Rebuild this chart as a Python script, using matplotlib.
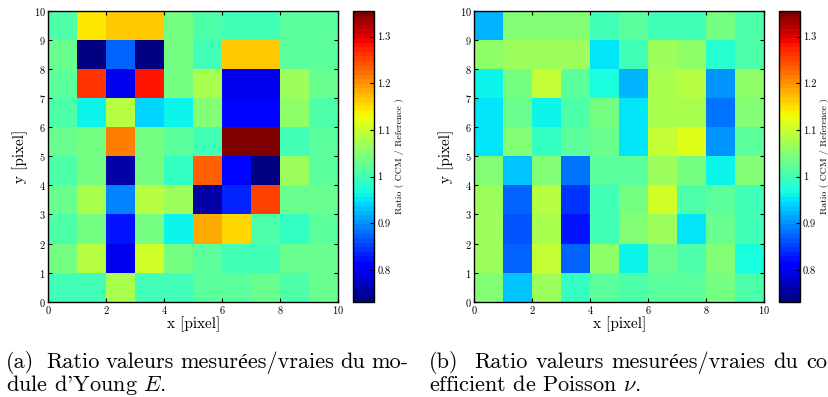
import numpy as np
import matplotlib
matplotlib.use("Agg")
import matplotlib.pyplot as plt

plt.rcParams['font.family'] = ['cmr10', 'Liberation Serif']
plt.rcParams['mathtext.fontset'] = 'cm'
plt.rcParams['axes.unicode_minus'] = False
plt.rcParams['axes.formatter.use_mathtext'] = True

# ratio maps, rows listed from top (y=9..10) down to bottom (y=0..1), columns x=0..9
young_rows = [
    [1.01, 1.15, 1.165, 1.165, 1.04, 1.01, 1.00, 1.00, 1.02, 1.02],
    [1.03, 0.74, 0.87, 0.74, 1.04, 1.00, 1.165, 1.165, 1.02, 1.02],
    [1.02, 1.26, 0.80, 1.28, 1.04, 1.08, 0.80, 0.80, 1.07, 1.03],
    [1.01, 0.96, 1.09, 0.94, 0.96, 1.05, 0.81, 0.81, 1.06, 1.01],
    [1.03, 1.04, 1.21, 1.04, 1.02, 1.00, 1.35, 1.35, 1.00, 1.02],
    [1.01, 1.04, 0.76, 1.04, 0.99, 1.23, 0.81, 0.74, 1.07, 1.02],
    [1.03, 1.08, 0.89, 1.09, 1.07, 0.76, 0.83, 1.25, 1.03, 1.03],
    [1.01, 1.04, 0.82, 1.04, 0.96, 1.18, 1.16, 1.01, 0.99, 1.02],
    [1.04, 1.09, 0.80, 1.11, 1.04, 1.02, 1.00, 1.00, 1.03, 1.03],
    [1.00, 1.00, 1.08, 0.995, 0.995, 1.02, 1.02, 1.025, 1.01, 1.03],
]
poisson_rows = [
    [0.92, 1.05, 1.045, 1.05, 1.00, 1.02, 1.00, 1.00, 1.035, 1.01],
    [1.06, 1.07, 1.065, 1.065, 0.95, 1.00, 1.07, 1.06, 0.985, 1.01],
    [0.965, 1.04, 1.10, 1.02, 0.97, 0.92, 1.08, 1.09, 0.90, 1.06],
    [0.95, 1.03, 0.965, 1.01, 1.04, 0.95, 1.08, 1.08, 0.88, 1.05],
    [0.95, 1.05, 0.99, 1.02, 1.025, 0.95, 1.10, 1.12, 0.90, 1.02],
    [1.05, 0.93, 1.045, 0.88, 1.02, 1.02, 1.07, 1.04, 0.965, 1.05],
    [1.065, 0.87, 1.09, 0.84, 1.00, 1.04, 1.11, 1.01, 1.02, 1.00],
    [1.065, 0.86, 1.08, 0.82, 1.00, 1.045, 1.07, 0.95, 1.03, 1.00],
    [1.065, 0.87, 1.10, 0.87, 1.06, 0.965, 1.025, 1.01, 1.045, 0.97],
    [1.05, 0.93, 1.065, 0.99, 1.02, 1.01, 1.02, 1.02, 1.035, 1.01],
]
vmin, vmax = 0.732, 1.355
cbar_ticks = [0.8, 0.9, 1, 1.1, 1.2, 1.3]
cbar_labels = ['0.8', '0.9', '1', '1.1', '1.2', '1.3']
# first caption line is justified (latex style), second is left aligned
cap_words = [
    ["(a)", "Ratio", "valeurs", "mesurées/vraies", "du", "mo-"],
    ["(b)", "Ratio", "valeurs", "mesurées/vraies", "du", "co"],
]
cap_second = [r"dule d'Young $E$.", r"efficient de Poisson $\nu$."]

W, H = 829, 397
fig = plt.figure(figsize=(W / 100, H / 100), dpi=100)
cmap = plt.get_cmap('jet', 64)
edges = np.arange(11)

ax_pos = [[0.0583, 0.2401, 0.3498, 0.7322], [0.5721, 0.2401, 0.3495, 0.7322]]
cb_pos = [[0.4255, 0.2401, 0.0261, 0.7322], [0.9397, 0.2401, 0.0253, 0.7322]]

for k, rows in enumerate([young_rows, poisson_rows]):
    data = np.array(rows)[::-1]
    ax = fig.add_axes(ax_pos[k])
    mesh = ax.pcolormesh(edges, edges, data, cmap=cmap, vmin=vmin, vmax=vmax)
    ax.set_xlim(0, 10)
    ax.set_ylim(0, 10)
    ax.set_xticks(range(0, 11, 2))
    ax.set_yticks(range(0, 11))
    ax.tick_params(direction='in', top=True, right=True, labelsize=7.5,
                   length=3, width=0.8, pad=2)
    for s in ax.spines.values():
        s.set_linewidth(1.0)
    ax.set_xlabel('x [pixel]', fontsize=11, labelpad=0)
    ax.set_ylabel('y [pixel]', fontsize=11, labelpad=4)

    cax = fig.add_axes(cb_pos[k])
    cb = fig.colorbar(mesh, cax=cax)
    cb.set_ticks(cbar_ticks)
    cb.set_ticklabels(cbar_labels)
    cax.tick_params(direction='in', labelsize=7.5, length=3, width=0.8, pad=2)
    cb.outline.set_linewidth(1.0)
    cb.set_label('Ratio ( CCM / Reference )', fontsize=7, labelpad=3)

# captions
renderer = fig.canvas.get_renderer()
starts = [6, 429]
line_w = [402, 398]
fs = 16
for k in range(2):
    txts = [fig.text(0, (H - 368) / H, w, fontsize=fs, va='baseline', ha='left')
            for w in cap_words[k]]
    widths = [t.get_window_extent(renderer).width for t in txts]
    # gap after the "(a)" label counts double
    weights = [2] + [1] * (len(txts) - 2)
    gap = (line_w[k] - sum(widths)) / sum(weights)
    x = starts[k]
    for i, t in enumerate(txts):
        t.set_x(x / W)
        if i < len(weights):
            x += widths[i] + gap * weights[i]
    fig.text(starts[k] / W, (H - 391) / H, cap_second[k], fontsize=fs,
             va='baseline', ha='left')

fig.savefig('out.png', dpi=100)
